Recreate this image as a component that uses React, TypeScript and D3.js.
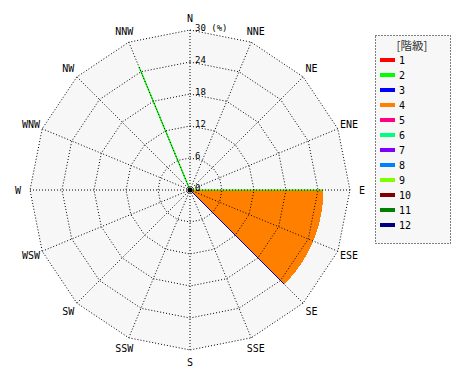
import React from 'react';
import * as d3 from 'd3';

const directions = ['N', 'NNE', 'NE', 'ENE', 'E', 'ESE', 'SE', 'SSE', 'S', 'SSW', 'SW', 'WSW', 'W', 'WNW', 'NW', 'NNW'];
const classLabels = ['1', '2', '3', '4', '5', '6', '7', '8', '9', '10', '11', '12'];
const classColors = ['#ff0000', '#00ff00', '#0000ff', '#ff8000', '#ff0080', '#00ff80', '#8000ff', '#0080ff', '#80ff00', '#800000', '#008000', '#000080'];
const radialTicks = [0, 6, 12, 18, 24, 30];

// percentage per direction for each class (N, NNE, ..., NNW)
const class1 = [0, 0, 0, 0, 0, 0, 0, 0, 0, 0, 0, 0, 0, 0, 0, 0];
const class2 = [0, 0, 0, 0, 0, 0, 0, 0, 0, 0, 0, 0, 0, 0, 0, 25];
const class3 = [0, 0, 0, 0, 0, 0, 0, 0, 0, 0, 0, 0, 0, 0, 0, 0];
const class4 = [0, 0, 0, 0, 25, 25, 25, 0, 0, 0, 0, 0, 0, 0, 0, 0];
const class5 = [0, 0, 0, 0, 0, 0, 0, 0, 0, 0, 0, 0, 0, 0, 0, 0];
const class6 = [0, 0, 0, 0, 0, 0, 0, 0, 0, 0, 0, 0, 0, 0, 0, 0];
const class7 = [0, 0, 0, 0, 0, 0, 0, 0, 0, 0, 0, 0, 0, 0, 0, 0];
const class8 = [0, 0, 0, 0, 0, 0, 0, 0, 0, 0, 0, 0, 0, 0, 0, 0];
const class9 = [0, 0, 0, 0, 0, 0, 0, 0, 0, 0, 0, 0, 0, 0, 0, 0];
const class10 = [0, 0, 0, 0, 0, 0, 0, 0, 0, 0, 0, 0, 0, 0, 0, 0];
const class11 = [0, 0, 0, 0, 0, 0, 0, 0, 0, 0, 0, 0, 0, 0, 0, 0];
const class12 = [0, 0, 0, 0, 0, 0, 0, 0, 0, 0, 0, 0, 0, 0, 0, 0];

const series = [class1, class2, class3, class4, class5, class6, class7, class8, class9, class10, class11, class12];

const W = 470;
const H = 380;
const cx = 190;
const cy = 190;
const R = 160;
const FONT = '"DejaVu Sans Mono", "Liberation Mono", monospace';

export default function App() {
  const n = directions.length;
  const step = (2 * Math.PI) / n;
  const r = d3.scaleLinear().domain([0, 30]).range([0, R]);
  const ang = (i: number) => i * step;
  const px = (a: number, rr: number) => cx + rr * Math.sin(a);
  const py = (a: number, rr: number) => cy - rr * Math.cos(a);

  const ringPath = (v: number) => {
    const pts = directions.map((_, i) => [px(ang(i), r(v)), py(ang(i), r(v))] as [number, number]);
    return d3.line()(pts.concat([pts[0]])) || '';
  };
  const outerPath = ringPath(30);

  // stacked cumulative
  const cum: number[][] = [];
  series.forEach((s, k) => {
    cum.push(s.map((v, i) => v + (k > 0 ? cum[k - 1][i] : 0)));
  });

  const areaGen = d3
    .areaRadial<[number, number, number]>()
    .angle((d) => d[0])
    .innerRadius((d) => r(d[1]))
    .outerRadius((d) => r(d[2]));

  const marks: React.ReactNode[] = [];
  const edges: React.ReactNode[] = [];
  series.forEach((s, k) => {
    const lower = k > 0 ? cum[k - 1] : directions.map(() => 0);
    const upper = cum[k];
    const visited = directions.map(() => false);
    for (let i = 0; i < n; i++) {
      if (s[i] <= 0 || visited[i]) continue;
      if (s[(i - 1 + n) % n] > 0 && !visited[(i - 1 + n) % n]) {
        let j = i;
        let guard = 0;
        while (s[(j - 1 + n) % n] > 0 && guard < n) {
          j = (j - 1 + n) % n;
          guard++;
        }
        if (guard >= n) j = i;
        i = j;
      }
      const run: number[] = [];
      let j = i;
      while (s[j] > 0 && !visited[j]) {
        visited[j] = true;
        run.push(j);
        j = (j + 1) % n;
      }
      if (run.length === 1) {
        const d = run[0];
        marks.push(
          <line
            key={`l${k}-${d}`}
            x1={px(ang(d), r(lower[d]))}
            y1={py(ang(d), r(lower[d]))}
            x2={px(ang(d), r(upper[d]))}
            y2={py(ang(d), r(upper[d]))}
            stroke={classColors[k]}
            strokeWidth={1.3}
          />
        );
      } else {
        const pts: [number, number, number][] = [];
        for (let q = 0; q < run.length - 1; q++) {
          const a0 = run[q];
          const a1 = run[q + 1];
          const base = q * step + run[0] * step;
          for (let t = 0; t <= 24; t++) {
            const f = t / 24;
            pts.push([
              base + f * step,
              lower[a0] + f * (lower[a1] - lower[a0]),
              upper[a0] + f * (upper[a1] - upper[a0]),
            ]);
          }
        }
        marks.push(
          <path
            key={`a${k}-${i}`}
            d={areaGen(pts) || ''}
            transform={`translate(${cx},${cy})`}
            fill={classColors[k]}
            shapeRendering="crispEdges"
          />
        );
        const first = run[0];
        const last = run[run.length - 1];
        edges.push(
          <line
            key={`e1${k}-${i}`}
            x1={px(ang(first), r(lower[first]))}
            y1={py(ang(first), r(lower[first]))}
            x2={px(ang(first), r(upper[first]))}
            y2={py(ang(first), r(upper[first]))}
            stroke={classColors[1]}
            strokeWidth={1}
          />,
          <line
            key={`e2${k}-${i}`}
            x1={px(ang(last), r(lower[last]))}
            y1={py(ang(last), r(lower[last]))}
            x2={px(ang(last), r(upper[last]))}
            y2={py(ang(last), r(upper[last]))}
            stroke={classColors[2]}
            strokeWidth={1}
          />
        );
      }
    }
  });

  return (
    <svg
      width={W}
      height={H}
      style={{ position: 'absolute', left: 0, top: 0, background: '#ffffff' }}
    >
      <rect x={0} y={0} width={W} height={H} fill="#ffffff" />
      <path d={outerPath} fill="#f7f7f7" stroke="none" />
      {marks}
      {edges}
      {radialTicks
        .filter((v) => v > 0)
        .map((v) => (
          <path
            key={`ring${v}`}
            d={ringPath(v)}
            fill="none"
            stroke="#000"
            strokeWidth={1}
            strokeDasharray="1,2"
          />
        ))}
      {directions.map((d, i) => (
        <line
          key={`sp${d}`}
          x1={cx}
          y1={cy}
          x2={px(ang(i), R)}
          y2={py(ang(i), R)}
          stroke="#000"
          strokeWidth={1}
          strokeDasharray="1,2"
        />
      ))}
      <circle cx={cx} cy={cy} r={2.5} fill="#000" />
      {radialTicks.map((v) => (
        <text
          key={`t${v}`}
          x={cx + 5}
          y={cy - r(v) + 0.5}
          fontFamily={FONT}
          fontSize={9}
          fill="#000"
        >
          {v === 30 ? '30 (%)' : String(v)}
        </text>
      ))}
      {directions.map((d, i) => (
        <text
          key={`dl${d}`}
          x={px(ang(i), 172)}
          y={py(ang(i), 172)}
          textAnchor="middle"
          dominantBaseline="central"
          fontFamily={FONT}
          fontSize={10}
          fill="#000"
        >
          {d}
        </text>
      ))}
      <rect
        x={375.5}
        y={35.5}
        width={75}
        height={208}
        fill="#f7f7f7"
        stroke="#000"
        strokeWidth={1}
        strokeDasharray="1,2"
      />
      <text
        x={412}
        y={45}
        textAnchor="middle"
        dominantBaseline="central"
        fontFamily='"Noto Sans CJK JP", "DejaVu Sans Mono", monospace'
        fontSize={11.5}
        fill="#333"
      >
        [階級]
      </text>
      {classLabels.map((lab, k) => (
        <g key={`lg${lab}`}>
          <rect x={380} y={58 + k * 15} width={15} height={4} fill={classColors[k]} />
          <text
            x={399}
            y={60 + k * 15}
            dominantBaseline="central"
            fontFamily={FONT}
            fontSize={10}
            fill="#000"
          >
            {lab}
          </text>
        </g>
      ))}
    </svg>
  );
}
